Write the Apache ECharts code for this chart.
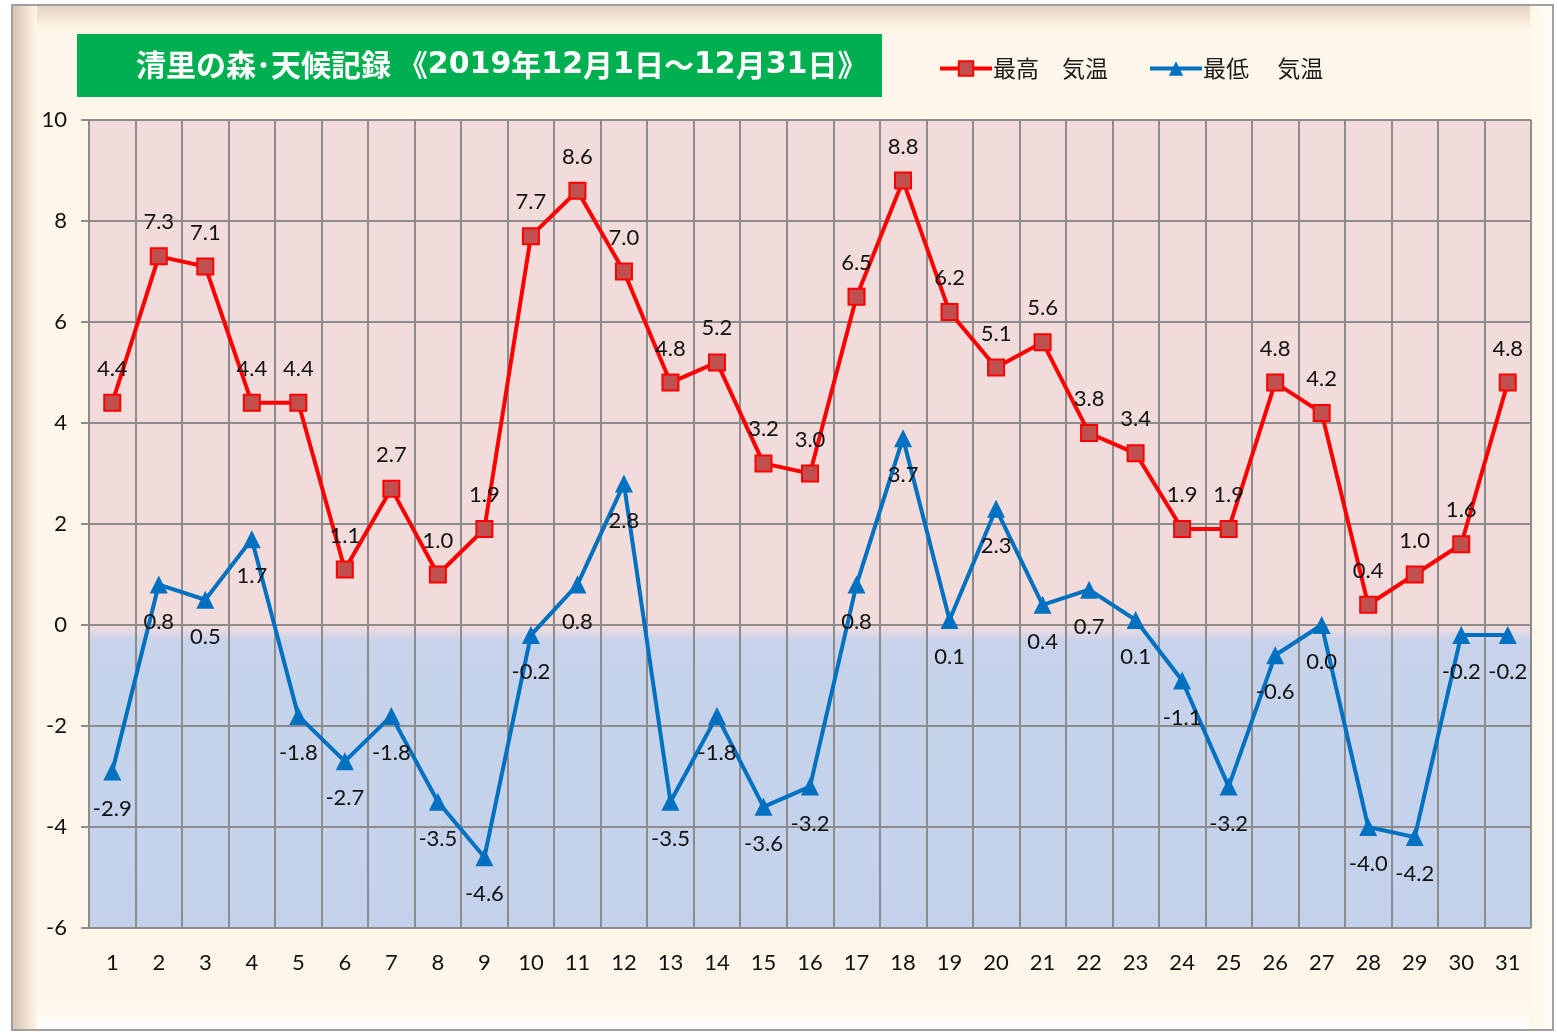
<!DOCTYPE html>
<html><head><meta charset="utf-8">
<script src="https://cdn.jsdelivr.net/npm/echarts@6/dist/echarts.min.js"></script>
<style>html,body{margin:0;padding:0;background:#fff}#c{width:1557px;height:1032px}</style>
</head><body><div id="c"></div>
<script>
var days = ['1','2','3','4','5','6','7','8','9','10','11','12','13','14','15','16','17','18','19','20','21','22','23','24','25','26','27','28','29','30','31'];
var maxTemp = [4.4,7.3,7.1,4.4,4.4,1.1,2.7,1.0,1.9,7.7,8.6,7.0,4.8,5.2,3.2,3.0,6.5,8.8,6.2,5.1,5.6,3.8,3.4,1.9,1.9,4.8,4.2,0.4,1.0,1.6,4.8];
var minTemp = [-2.9,0.8,0.5,1.7,-1.8,-2.7,-1.8,-3.5,-4.6,-0.2,0.8,2.8,-3.5,-1.8,-3.6,-3.2,0.8,3.7,0.1,2.3,0.4,0.7,0.1,-1.1,-3.2,-0.6,0.0,-4.0,-4.2,-0.2,-0.2];
var seriesNames = ['最高　気温','最低　 気温'];
var titleText = '清里の森･天候記録 《{d|2019}年{d|12}月{d|1}日～{d|12}月{d|31}日》';

var chart = echarts.init(document.getElementById('c'));
var fontNum = 'Lato, "Noto Sans", sans-serif';
var cream = '#fef6e8';
function lin(x,y,x2,y2,c1,c2){return {type:'linear',x:x,y:y,x2:x2,y2:y2,colorStops:[{offset:0,color:c1},{offset:1,color:c2}]};}
chart.setOption({
  backgroundColor:'#ffffff',
  animation:false,
  graphic:[
    {type:'rect',z:-10,shape:{x:12,y:5,width:1541,height:1025},style:{fill:cream,stroke:'#a0a0a0',lineWidth:2}},
    {type:'rect',z:-9,shape:{x:13,y:6,width:1539,height:24},style:{fill:lin(0,0,0,1,'#e4d4c4',cream)}},
    {type:'rect',z:-9,shape:{x:13,y:6,width:24,height:1023},style:{fill:lin(0,0,1,0,'#d8c4b4',cream)}},
    {type:'rect',z:-9,shape:{x:37,y:1004,width:1515,height:25},style:{fill:lin(0,0,0,1,cream,'#ffffff')}},
    {type:'rect',z:-9,shape:{x:1530,y:6,width:22,height:1023},style:{fill:lin(0,0,1,0,cream,'#fffdf8')}},
    {type:'rect',z:-8,shape:{x:77,y:34,width:805,height:63},style:{fill:'#00b050'}},
    {type:'text',z:-7,left:136,top:50,style:{text:titleText,fill:'#ffffff',font:'bold 30px "Noto Sans CJK JP"',
      rich:{d:{fontFamily:'"DejaVu Sans"',fontWeight:'bold',fontSize:30,fill:'#ffffff',color:'#ffffff'}}}}
  ],
  legend:{
    left:933, top:52, itemWidth:52, itemHeight:18, itemGap:40,
    lineStyle:{width:4},
    textStyle:{fontFamily:'"Noto Sans CJK JP"',fontSize:23,color:'#1a1a1a',padding:[0,0,0,-4]},
    data:[{name:seriesNames[0]},{name:seriesNames[1]}]
  },
  grid:{left:89,right:26,top:120,bottom:104,show:true,borderWidth:0,
    backgroundColor:{type:'linear',x:0,y:0,x2:0,y2:1,colorStops:[
      {offset:0,color:'#f2dcdb'},{offset:0.626,color:'#f2dcdb'},{offset:0.632,color:'#e6d9e4'},{offset:0.645,color:'#c6d3ea'},{offset:1,color:'#c3d1eb'}]}},
  xAxis:{type:'category',data:days,boundaryGap:true,
    axisLine:{show:true,lineStyle:{color:'#8c8c8c',width:2}},
    axisTick:{show:false},
    splitLine:{show:true,lineStyle:{color:'#8c8c8c',width:2}},
    axisLabel:{fontFamily:fontNum,fontSize:22,color:'#111',margin:24,interval:0}},
  yAxis:{type:'value',min:-6,max:10,interval:2,
    axisLine:{show:true,lineStyle:{color:'#8c8c8c',width:2}},
    axisTick:{show:true,length:8,lineStyle:{color:'#8c8c8c',width:2}},
    splitLine:{show:true,lineStyle:{color:'#8c8c8c',width:2}},
    axisLabel:{fontFamily:fontNum,fontSize:22,color:'#111',margin:22}},
  series:[
    {name:seriesNames[0],type:'line',data:maxTemp,symbol:'rect',symbolSize:16,
     lineStyle:{color:'#ff0000',width:4},itemStyle:{color:'#c0504d',borderColor:'#ff0000',borderWidth:2},
     label:{show:true,position:'top',distance:14,fontFamily:fontNum,fontSize:22,color:'#111',formatter:function(p){return p.value.toFixed(1);}}},
    {name:seriesNames[1],type:'line',data:minTemp,symbol:'triangle',symbolSize:18,
     lineStyle:{color:'#0070c0',width:4},itemStyle:{color:'#0070c0'},
     label:{show:true,position:'bottom',distance:17,fontFamily:fontNum,fontSize:22,color:'#111',formatter:function(p){return p.value.toFixed(1);}}}
  ]
});
</script></body></html>
